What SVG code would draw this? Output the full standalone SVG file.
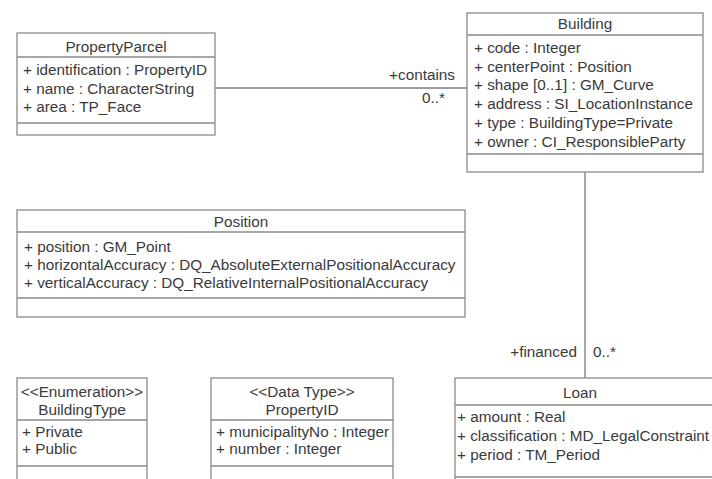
<svg xmlns="http://www.w3.org/2000/svg" width="712" height="479" viewBox="0 0 712 479">
<style>
.box{fill:#fff;stroke:#8a8a8a;stroke-width:1.3}
.sep{stroke:#8a8a8a;stroke-width:1.3}
.conn{stroke:#7a7a7a;stroke-width:1.3;fill:none}
text{font-family:"Liberation Sans",Arial,sans-serif;font-size:15.3px;fill:#3a3a3a}
.c{text-anchor:middle}
.r{text-anchor:end}
</style>
<rect width="712" height="479" fill="#fff"/>
<g id="connectors">
<line class="conn" x1="215" y1="88" x2="467" y2="88"/>
<line class="conn" x1="585" y1="172" x2="585" y2="378"/>
<text class="r" x="455" y="80">+contains</text>
<text x="422" y="103">0..*</text>
<text class="r" x="577" y="357">+financed</text>
<text x="593" y="357">0..*</text>
</g>
<g id="PropertyParcel">
<rect class="box" x="17" y="33" width="198" height="102"/>
<line class="sep" x1="17" y1="57" x2="215" y2="57"/>
<line class="sep" x1="17" y1="123" x2="215" y2="123"/>
<text class="c" x="116" y="52">PropertyParcel</text>
<text x="23" y="75">+ identification : PropertyID</text>
<text x="23" y="94">+ name : CharacterString</text>
<text x="23" y="112">+ area : TP_Face</text>
</g>
<g id="Building">
<rect class="box" x="467" y="13" width="236" height="159"/>
<line class="sep" x1="467" y1="35" x2="703" y2="35"/>
<line class="sep" x1="467" y1="154" x2="703" y2="154"/>
<text class="c" x="585" y="29">Building</text>
<text x="474" y="53">+ code : Integer</text>
<text x="474" y="72">+ centerPoint : Position</text>
<text x="474" y="90">+ shape [0..1] : GM_Curve</text>
<text x="474" y="109">+ address : SI_LocationInstance</text>
<text x="474" y="128">+ type : BuildingType=Private</text>
<text x="474" y="147">+ owner : CI_ResponsibleParty</text>
</g>
<g id="Position">
<rect class="box" x="17" y="210" width="448" height="107"/>
<line class="sep" x1="17" y1="232" x2="465" y2="232"/>
<line class="sep" x1="17" y1="298" x2="465" y2="298"/>
<text class="c" x="241" y="227">Position</text>
<text x="24" y="252">+ position : GM_Point</text>
<text x="24" y="270">+ horizontalAccuracy : DQ_AbsoluteExternalPositionalAccuracy</text>
<text x="24" y="288">+ verticalAccuracy : DQ_RelativeInternalPositionalAccuracy</text>
</g>
<g id="BuildingType">
<rect class="box" x="17" y="378" width="130" height="110"/>
<line class="sep" x1="17" y1="420" x2="147" y2="420"/>
<line class="sep" x1="17" y1="466" x2="147" y2="466"/>
<text class="c" x="82" y="397">&lt;&lt;Enumeration&gt;&gt;</text>
<text class="c" x="82" y="415">BuildingType</text>
<text x="22" y="437">+ Private</text>
<text x="22" y="454">+ Public</text>
</g>
<g id="PropertyID">
<rect class="box" x="211" y="378" width="182" height="110"/>
<line class="sep" x1="211" y1="420" x2="393" y2="420"/>
<line class="sep" x1="211" y1="466" x2="393" y2="466"/>
<text class="c" x="302" y="397">&lt;&lt;Data Type&gt;&gt;</text>
<text class="c" x="302" y="415">PropertyID</text>
<text x="216" y="437">+ municipalityNo : Integer</text>
<text x="216" y="454">+ number : Integer</text>
</g>
<g id="Loan">
<rect class="box" x="455" y="378" width="270" height="110"/>
<line class="sep" x1="455" y1="405" x2="725" y2="405"/>
<line class="sep" x1="455" y1="477" x2="725" y2="477"/>
<text class="c" x="580" y="398">Loan</text>
<text x="457" y="422">+ amount : Real</text>
<text x="457" y="441">+ classification : MD_LegalConstraint</text>
<text x="457" y="460">+ period : TM_Period</text>
</g>
</svg>
